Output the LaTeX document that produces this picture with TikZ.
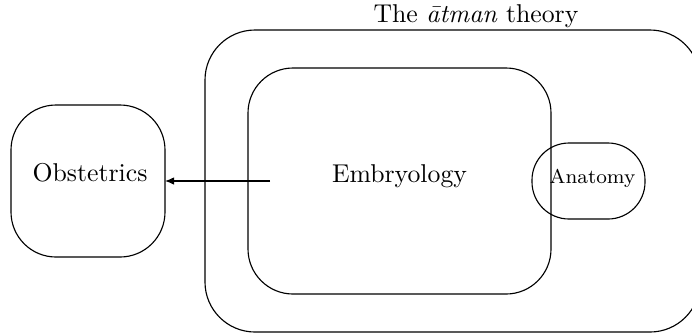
\documentclass[tikz,border=0pt]{standalone}
\usetikzlibrary{arrows.meta}
\begin{document}
\begin{tikzpicture}[x=0.4pt,y=-0.4pt,
  box/.style={draw=black,line width=0.45pt,inner sep=0pt,outer sep=0pt},
  lbl/.style={inner sep=0pt,outer sep=0pt,anchor=base,font=\fontsize{10.3}{12}\selectfont},
  conn/.style={line width=0.45pt,-{Latex[length=3.6pt,width=3pt]}}]
\clip (0,0) rectangle (692,335);
\fill[white] (0,0) rectangle (692,335);
% boxes
\node[box,minimum width=198pt,minimum height=120.8pt,rounded corners=20pt] (atman) at (452.5,181) {};
\node[box,minimum width=121.2pt,minimum height=90.4pt,rounded corners=18pt] (emb) at (399.5,181) {};
\node[box,minimum width=61.6pt,minimum height=60.8pt,rounded corners=18pt] (obs) at (88,181) {};
\node[box,minimum width=45.2pt,minimum height=30.4pt,rounded corners=14.8pt] (ana) at (588.5,181) {};
% texts
\node[lbl] (title) at (476,22) {The \textit{\=atman} theory};
\node[lbl] (embt) at (399.5,182) {Embryology};
\node[lbl] (obst) at (90,181) {Obstetrics};
\node[lbl,font=\fontsize{8}{10}\selectfont] (anat) at (592.5,183) {Anatomy};
% connector
\coordinate (src) at (270,181);
\draw[conn] (src) -- (obs.east |- src);
\end{tikzpicture}
\end{document}
